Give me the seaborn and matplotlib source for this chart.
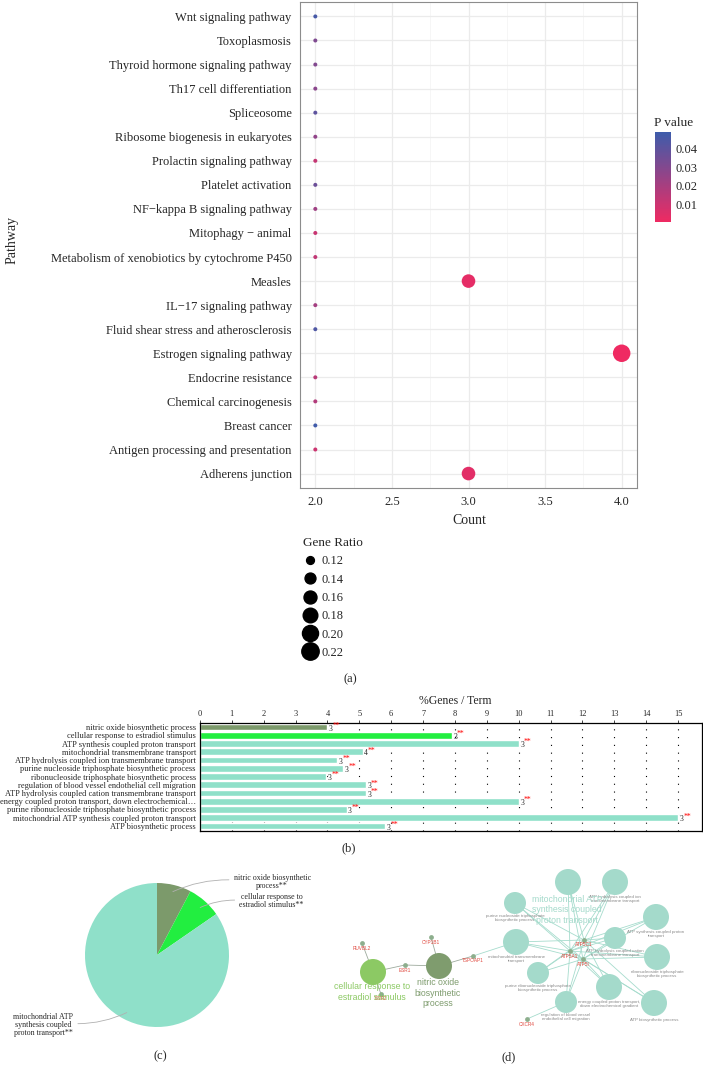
import numpy as np
import pandas as pd
import matplotlib
matplotlib.use("Agg")
import matplotlib.pyplot as plt
import seaborn as sns
from matplotlib.colors import LinearSegmentedColormap, Normalize
from matplotlib.cm import ScalarMappable
from matplotlib.lines import Line2D
from matplotlib.ticker import FormatStrFormatter

# ---------------- data ----------------
# (a) KEGG pathways
pathways = ["Wnt signaling pathway", "Toxoplasmosis", "Thyroid hormone signaling pathway",
            "Th17 cell differentiation", "Spliceosome", "Ribosome biogenesis in eukaryotes",
            "Prolactin signaling pathway", "Platelet activation", "NF\u2212kappa B signaling pathway",
            "Mitophagy \u2212 animal", "Metabolism of xenobiotics by cytochrome P450", "Measles",
            "IL\u221217 signaling pathway", "Fluid shear stress and atherosclerosis",
            "Estrogen signaling pathway", "Endocrine resistance", "Chemical carcinogenesis",
            "Breast cancer", "Antigen processing and presentation", "Adherens junction"]
counts = [2, 2, 2, 2, 2, 2, 2, 2, 2, 2, 2, 3, 2, 2, 4, 2, 2, 2, 2, 3]
p_values = [0.046, 0.031, 0.030, 0.028, 0.040, 0.026, 0.012, 0.036, 0.022, 0.011,
            0.013, 0.003, 0.021, 0.044, 0.0004, 0.015, 0.017, 0.048, 0.010, 0.004]
gene_ratio = [0.111, 0.111, 0.111, 0.111, 0.111, 0.111, 0.111, 0.111, 0.111, 0.111,
              0.111, 0.167, 0.111, 0.111, 0.222, 0.111, 0.111, 0.111, 0.111, 0.167]
ratio_breaks = [0.12, 0.14, 0.16, 0.18, 0.20, 0.22]

# (b) GO terms, % genes per term
go_terms = ["nitric oxide biosynthetic process", "cellular response to estradiol stimulus",
            "ATP synthesis coupled proton transport", "mitochondrial transmembrane transport",
            "ATP hydrolysis coupled ion transmembrane transport",
            "purine nucleoside triphosphate biosynthetic process",
            "ribonucleoside triphosphate biosynthetic process",
            "regulation of blood vessel endothelial cell migration",
            "ATP hydrolysis coupled cation transmembrane transport",
            "energy coupled proton transport, down electrochemical\u2026",
            "purine ribonucleoside triphosphate biosynthetic process",
            "mitochondrial ATP synthesis coupled proton transport", "ATP biosynthetic process"]
pct_genes = [4.0, 7.9, 10.0, 5.1, 4.3, 4.5, 3.95, 5.2, 5.2, 10.0, 4.6, 15.0, 5.8]
n_genes = [3, 3, 3, 4, 3, 3, 3, 3, 3, 3, 3, 3, 3]
term_group = ["nitric", "cellular"] + ["mito"] * 11

# (c) pie of term groups
pie_labels = ["nitric oxide biosynthetic\nprocess**", "cellular response to\nestradiol stimulus**",
              "mitochondrial ATP\nsynthesis coupled\nproton transport**"]
pie_terms = [1, 1, 11]

# (d) network layout
net_terms = ["cellular", "nitric", "mitoATP", "hydIon", "purNuc", "atpSyn", "hydCat",
             "mitoTM", "riboNuc", "purRibo", "energy", "regVessel", "atpBio"]
net_term_x = [373, 439, 568, 615, 515, 656, 615, 516, 657, 538, 609, 566, 654]
net_term_y = [972, 966, 882, 882, 903, 917, 938, 942, 957, 973, 987, 1002, 1003]
net_term_r = [13, 13, 13, 13, 11, 13, 11, 13, 13, 11, 13, 11, 13]
net_term_grp = ["cellular", "nitric"] + ["mito"] * 11
net_term_text = ["", "", "",
                 "ATP hydrolysis coupled ion\ntransmembrane transport",
                 "purine nucleoside triphosphate\nbiosynthetic process",
                 "ATP synthesis coupled proton\ntransport",
                 "ATP hydrolysis coupled cation\ntransmembrane transport",
                 "mitochondrial transmembrane\ntransport",
                 "ribonucleoside triphosphate\nbiosynthetic process",
                 "purine ribonucleoside triphosphate\nbiosynthetic process",
                 "energy coupled proton transport,\ndown electrochemical gradient",
                 "regulation of blood vessel\nendothelial cell migration",
                 "ATP biosynthetic process"]
genes = ["RUVBL2", "ESR1", "ESR2", "CYP1B1", "TSPOAP1", "ATP5A1", "ATP5C1", "ATP5I", "CXCR4"]
gene_x = [362, 405, 381, 431, 473, 570, 584, 583, 527]
gene_y = [943, 965, 994, 937, 956, 951, 940, 959, 1019]
atp_terms = ["mitoATP", "hydIon", "purNuc", "atpSyn", "hydCat", "mitoTM",
             "riboNuc", "purRibo", "energy", "regVessel", "atpBio"]
edges = ([("RUVBL2", "cellular"), ("ESR1", "cellular"), ("ESR2", "cellular"),
          ("ESR1", "nitric"), ("CYP1B1", "nitric"), ("TSPOAP1", "nitric"),
          ("TSPOAP1", "mitoTM"), ("CXCR4", "regVessel")]
         + [(g, t) for g in ["ATP5A1", "ATP5C1", "ATP5I"] for t in atp_terms])

# ---------------- style ----------------
sns.set_style("white")
plt.rcParams['font.family'] = ['Liberation Serif', 'DejaVu Serif']
W, H = 703, 1074
fig = plt.figure(figsize=(W / 100, H / 100), dpi=100)


def box(l, t, r, b):
    return [l / W, 1 - b / H, (r - l) / W, (b - t) / H]


# ---------------- (a) dot plot ----------------
axa = fig.add_axes(box(300, 2, 637, 488))
df_a = pd.DataFrame({"Pathway": pathways, "Count": counts, "P": p_values, "GeneRatio": gene_ratio})
pcmap = LinearSegmentedColormap.from_list("pv", ["#EF2A62", "#3D5CAB"])
pnorm = Normalize(0.0003, 0.049)
gr_lo, gr_hi = min(gene_ratio), max(gene_ratio)


def dot_px(v):
    # area-like size scale (diameter in px)
    return 4 + 13.5 * np.sqrt(max(v - gr_lo, 0) / (gr_hi - gr_lo))


size_map = {v: (dot_px(v) * 0.72) ** 2 for v in set(gene_ratio)}
sns.scatterplot(data=df_a, x="Count", y="Pathway", hue="P", palette=pcmap, hue_norm=pnorm,
                size="GeneRatio", sizes=size_map, legend=False, linewidth=0, ax=axa, zorder=3)
axa.set_xlim(1.9, 4.1)
axa.set_ylim(len(pathways) - 0.4, -0.6)
axa.set_xticks([2, 2.5, 3, 3.5, 4])
axa.set_xticks([2.25, 2.75, 3.25, 3.75], minor=True)
axa.xaxis.set_major_formatter(FormatStrFormatter('%.1f'))
axa.grid(True, which='major', color='#EBEBEB', lw=0.9)
axa.grid(True, which='minor', axis='x', color='#F3F3F3', lw=0.5)
axa.set_axisbelow(True)
for s in axa.spines.values():
    s.set_color('#8c8c8c')
    s.set_linewidth(0.8)
axa.tick_params(which='major', length=3, width=0.6, color='#555555', labelsize=9, pad=3)
axa.tick_params(which='minor', length=0)
axa.set_xlabel("")
axa.set_ylabel("")
fig.text(469 / W, 1 - 521 / H, "Count", ha='center', va='center', fontsize=10)
fig.text(12 / W, 1 - 240 / H, "Pathway", ha='center', va='center', rotation=90, fontsize=10)

cax = fig.add_axes(box(655, 132, 671, 222))
cb = fig.colorbar(ScalarMappable(norm=pnorm, cmap=pcmap), cax=cax)
cb.set_ticks([0.01, 0.02, 0.03, 0.04])
cb.outline.set_visible(False)
cax.tick_params(length=3, direction='in', color='white', labelsize=9, pad=3)
fig.text(654 / W, 1 - 123 / H, "P value", fontsize=9.5, va='center', ha='left')

handles = [Line2D([], [], ls='none', marker='o', color='black', markersize=dot_px(v) * 0.72)
           for v in ratio_breaks]
fig.legend(handles, ["%.2f" % v for v in ratio_breaks], title="Gene Ratio", loc='upper left',
           bbox_to_anchor=(297 / W, 1 - 531 / H), frameon=False, fontsize=9, title_fontsize=9.5,
           labelspacing=0.5, handletextpad=0.5, handlelength=1.0, alignment='left', borderpad=0)

# ---------------- (b) bar chart ----------------
axb = fig.add_axes(box(200, 722.5, 702, 830.5))
df_b = pd.DataFrame({"term": go_terms, "pct": pct_genes, "group": term_group})
bar_palette = {"nitric": "#7C9A6B", "cellular": "#22EE40", "mito": "#8FE0C9"}
sns.barplot(data=df_b, x="pct", y="term", hue="group", palette=bar_palette, dodge=False,
            orient="h", width=0.84, saturation=1, legend=False, ax=axb)
axb.set_xlim(0, 15.75)
axb.set_ylim(len(go_terms) - 0.45, -0.55)
axb.xaxis.tick_top()
axb.set_xticks(range(16))
axb.tick_params(axis='x', labelsize=6, length=2, pad=1.5, width=0.6)
axb.tick_params(axis='y', labelsize=6, length=2, pad=1, width=0.6)
axb.grid(axis='x', color='black', linestyle=(0, (1, 6)), lw=0.8)
axb.set_axisbelow(True)
for s in axb.spines.values():
    s.set_color('black')
    s.set_linewidth(0.9)
axb.set_xlabel("")
axb.set_ylabel("")
for i, (v, n) in enumerate(zip(pct_genes, n_genes)):
    axb.annotate(str(n), (v, i), xytext=(1, -1.2), textcoords='offset points',
                 fontsize=5.5, va='center', ha='left')
    axb.annotate("**", (v, i), xytext=(3.8, 0.9), textcoords='offset points',
                 fontsize=5.5, color='red', va='center', ha='left')
fig.text(455 / W, 1 - 701 / H, "%Genes / Term", ha='center', va='center', fontsize=8.5)

# ---------------- (c) pie ----------------
axc = fig.add_axes(box(0, 860, 330, 1040))
pie_colors = [bar_palette["nitric"], bar_palette["cellular"], bar_palette["mito"]]
axc.pie(pie_terms, colors=pie_colors, startangle=90, counterclock=False, radius=1,
        wedgeprops=dict(linewidth=0))
axc.set_aspect('auto')
axc.set_xlim(-157 / 72, (330 - 157) / 72)
axc.set_ylim(-(1040 - 955) / 72, (955 - 860) / 72)
label_xy = [(1.60, 1.02), (1.59, 0.75), (-1.58, -0.97)]
anchor_xy = [(0.22, 0.88), (0.60, 0.66), (-0.42, -0.80)]
rel = [(0, 0.6), (0, 0.55), (1, 0.55)]
for lab, txy, axy, rp in zip(pie_labels, label_xy, anchor_xy, rel):
    axc.annotate(lab, xy=axy, xytext=txy, ha='center', va='center', fontsize=5.7,
                 linespacing=1.0,
                 arrowprops=dict(arrowstyle='-', color='#b0b0b0', lw=0.6, shrinkA=1, shrinkB=0,
                                 relpos=rp, connectionstyle='arc3,rad=0.12'))

# ---------------- (d) network ----------------
axd = fig.add_axes(box(330, 860, 703, 1045))
pos = {t: (x, y) for t, x, y in zip(net_terms, net_term_x, net_term_y)}
pos.update({g: (x, y) for g, x, y in zip(genes, gene_x, gene_y)})
for g, t in edges:
    col = '#A6DCCD' if t not in ("cellular", "nitric") else '#9DAA9D'
    axd.plot([pos[g][0], pos[t][0]], [pos[g][1], pos[t][1]], color=col, lw=0.6, zorder=1)
df_d = pd.DataFrame({"x": net_term_x, "y": net_term_y, "r": net_term_r, "grp": net_term_grp})
net_palette = {"cellular": "#8CC964", "nitric": "#7F9C6E", "mito": "#A4DACB"}
node_sizes = {r: (2 * r * 0.72) ** 2 for r in set(net_term_r)}
sns.scatterplot(data=df_d, x="x", y="y", hue="grp", palette=net_palette, size="r",
                sizes=node_sizes, legend=False, linewidth=0, ax=axd, zorder=3)
sns.scatterplot(x=gene_x, y=gene_y, color="#8DAE8D", s=12, linewidth=0, ax=axd, zorder=4)
axd.set_xlim(330, 703)
axd.set_ylim(1045, 860)
axd.axis('off')
for t, x, y, r in zip(net_term_text, net_term_x, net_term_y, net_term_r):
    if t:
        axd.text(x, y + r + 4, t, ha='center', va='center', fontsize=3.2, color='#8a8a8a',
                 family='Liberation Sans', linespacing=1.3, zorder=5)
for g, x, y in zip(genes, gene_x, gene_y):
    axd.text(x, y + 5, g, ha='center', va='center', fontsize=3.4, color='#E0483E',
             family='Liberation Sans', zorder=5)
big_labels = [("mitochondrial ATP\nsynthesis coupled\nproton transport", 567, 910, "#A4DACB"),
              ("nitric oxide\nbiosynthetic\nprocess", 438, 993, "#7F9C6E"),
              ("cellular response to\nestradiol stimulus", 372, 992, "#8CC964")]
for t, x, y, c in big_labels:
    axd.text(x, y, t, ha='center', va='center', fontsize=6.3, color=c,
             family='Liberation Sans', linespacing=1.25, zorder=6)

# ---------------- panel letters ----------------
for lab, x, y in [("(a)", 350, 679), ("(b)", 349, 848), ("(c)", 160, 1056), ("(d)", 509, 1057)]:
    fig.text(x / W, 1 - y / H, lab, ha='center', va='center', fontsize=9)

fig.savefig("out.png", dpi=100)
